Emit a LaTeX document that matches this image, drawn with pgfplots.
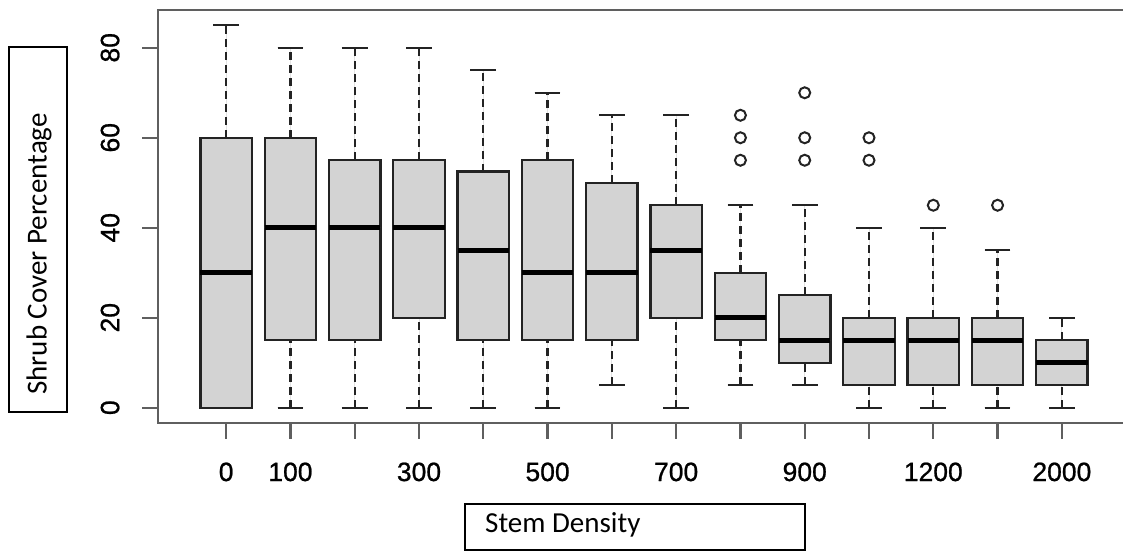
\documentclass[border=0pt]{standalone}
\usepackage{pgfplots}
\pgfplotsset{compat=1.18}
\usepgfplotslibrary{statistics}
\usepackage{fontspec}
\setmainfont{Liberation Sans}
\newfontfamily\tickfont{Liberation Sans}[FakeBold=0.8]
\newfontfamily\calibri{Carlito}
\definecolor{boxfill}{RGB}{211,211,211}
\definecolor{framec}{RGB}{95,95,95}
\definecolor{edge}{RGB}{35,35,35}

\pgfplotsset{
  boxplot/draw direction=y,
  boxplot/draw/lower whisker/.code={%
    \draw[edge,line width=2.2pt,dash pattern=on 8pt off 5pt]
      (boxplot box cs:\pgfplotsboxplotvalue{lower whisker},0.5) --
      (boxplot box cs:\pgfplotsboxplotvalue{lower quartile},0.5);
    \draw[edge,line width=2.2pt,solid]
      (boxplot whisker cs:\pgfplotsboxplotvalue{lower whisker},0) --
      (boxplot whisker cs:\pgfplotsboxplotvalue{lower whisker},1);
  },
  boxplot/draw/upper whisker/.code={%
    \draw[edge,line width=2.2pt,dash pattern=on 8pt off 5pt]
      (boxplot box cs:\pgfplotsboxplotvalue{upper quartile},0.5) --
      (boxplot box cs:\pgfplotsboxplotvalue{upper whisker},0.5);
    \draw[edge,line width=2.2pt,solid]
      (boxplot whisker cs:\pgfplotsboxplotvalue{upper whisker},0) --
      (boxplot whisker cs:\pgfplotsboxplotvalue{upper whisker},1);
  },
  rbox/.style={
    draw=edge, fill=boxfill, line width=2.2pt, solid,
    mark=o, mark size=5.5pt,
    mark options={draw=edge, fill=none, line width=2pt, solid},
    boxplot/box extend=0.8, boxplot/whisker extend=0.4,
    boxplot/every median/.style={draw=black, line width=5pt},
  },
}

\newcommand{\rb}[6]{%
  \addplot[rbox, boxplot prepared={draw position=#1, lower whisker=#2,
    lower quartile=#3, median=#4, upper quartile=#5, upper whisker=#6}]}

\begin{document}
\begin{tikzpicture}
\begin{axis}[
  at={(158pt,130pt)}, anchor=south west,
  scale only axis, width=972pt, height=413pt,
  xmin=-0.06, xmax=15.06, ymin=-3.4, ymax=88.4,
  axis line style={draw=framec, line width=2.2pt},
  xtick={1,2,3,4,5,6,7,8,9,10,11,12,13,14},
  xticklabels={0,100,,300,,500,,700,,900,,1200,,2000},
  ytick={0,20,40,60,80},
  yticklabels={0,20,40,60,80},
  tick align=outside, xtick pos=bottom, ytick pos=left,
  major tick length=16pt,
  every tick/.style={draw=framec, line width=2.2pt},
  tick label style={font=\tickfont\fontsize{26.5}{31}\selectfont, text=black},
  yticklabel style={rotate=90, anchor=south},
  xticklabel shift=20pt,
  yticklabel shift=19pt,
]
\rb{1}{0}{0}{30}{60}{85} coordinates {};
\rb{2}{0}{15}{40}{60}{80} coordinates {};
\rb{3}{0}{15}{40}{55}{80} coordinates {};
\rb{4}{0}{20}{40}{55}{80} coordinates {};
\rb{5}{0}{15}{35}{52.5}{75} coordinates {};
\rb{6}{0}{15}{30}{55}{70} coordinates {};
\rb{7}{5}{15}{30}{50}{65} coordinates {};
\rb{8}{0}{20}{35}{45}{65} coordinates {};
\rb{9}{5}{15}{20}{30}{45} coordinates {(9,55) (9,60) (9,65)};
\rb{10}{5}{10}{15}{25}{45} coordinates {(10,55) (10,60) (10,70)};
\rb{11}{0}{5}{15}{20}{40} coordinates {(11,55) (11,60)};
\rb{12}{0}{5}{15}{20}{40} coordinates {(12,45)};
\rb{13}{0}{5}{15}{20}{35} coordinates {(13,45)};
\rb{14}{0}{5}{10}{15}{20} coordinates {};
\end{axis}
% axis title boxes
\draw[line width=1.4pt, black] (9pt,141pt) rectangle (67pt,506pt);
\node[rotate=90, anchor=west, inner sep=0pt, font=\calibri\fontsize{29}{34}\selectfont]
  at (39pt,158pt) {Shrub Cover Percentage};
\draw[line width=1.4pt, black] (465pt,3pt) rectangle (805pt,49pt);
\node[anchor=base west, inner sep=0pt, font=\calibri\fontsize{29}{34}\selectfont]
  at (485pt,20pt) {Stem Density};
\pgfresetboundingbox
\useasboundingbox (0pt,0pt) rectangle (1123pt,553pt);
\end{tikzpicture}
\end{document}
